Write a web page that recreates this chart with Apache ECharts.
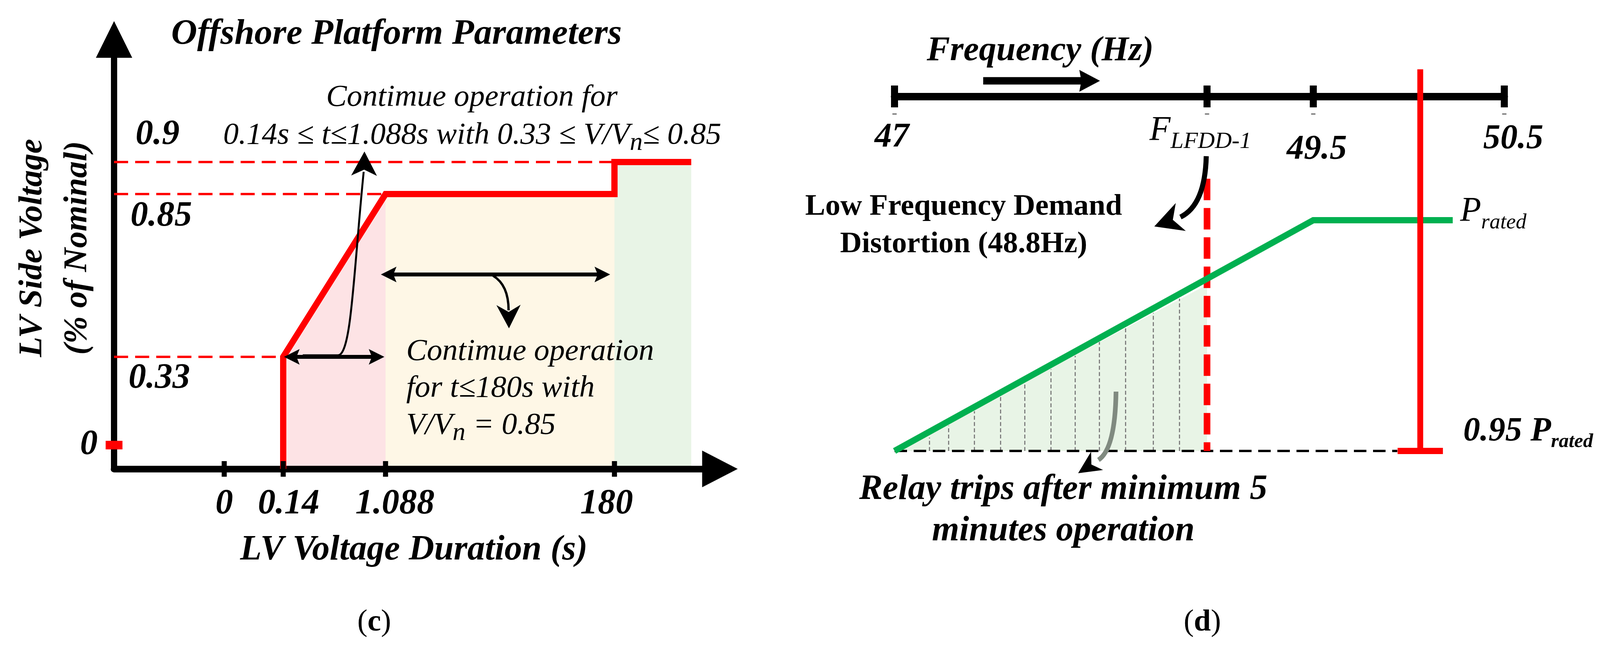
<!DOCTYPE html>
<html>
<head>
<meta charset="utf-8">
<script src="https://cdn.jsdelivr.net/npm/echarts@6/dist/echarts.min.js"></script>
<style>html,body{margin:0;padding:0;background:#fff}#c{width:4117px;height:1652px}</style>
</head>
<body>
<div id="c"></div>
<script>
// ================= DATA =================
// Panel (c): LV ride-through curve of the offshore platform
const cTimeTicks      = [0, 0.14, 1.088, 180];          // s
const cTimeTickLabels = ['0', '0.14', '1.088', '180'];
const cVoltLevels     = [0, 0.33, 0.85, 0.9];           // V/Vn
const cVoltLabels     = ['0', '0.33', '0.85', '0.9'];
const cCurveTime      = [0.14, 0.14, 1.088, 180, 180, 240];
const cCurveVolt      = [0, 0.33, 0.85, 0.85, 0.9, 0.9];
const cZoneTime       = [[0.14, 1.088], [1.088, 180], [180, 240]];
const cZoneVolt       = [[0.33, 0.85], [0.85, 0.85], [0.9, 0.9]];
const cGuideVolt      = [0.9, 0.85, 0.33];
const cGuideEndTime   = [180, 1.088, 0.14];

// Panel (d): low-frequency demand disconnection
const dFreqTicks      = [47, 48.8, 49.5, 50.5];         // Hz
const dFreqTickLabels = ['47', 'F_LFDD-1', '49.5', '50.5'];
const dPowerFreq      = [47, 49.5, 50.23];
const dPowerVal       = [0.95, 1.0, 1.0];               // P / Prated
const dLfddFreq       = [48.8, 48.8];
const dLfddVal        = [1.009, 0.95];
const dRelayFreq      = [50.06, 50.06];
const dRelayVal       = [0.95, 1.0327];
const dBaseFreq       = [47, 49.94];
const dBaseVal        = [0.95, 0.95];
const dTripFreq       = [47, 48.8];
const dTripVal        = [0.95, 0.986];
const dHatchFreq      = [47.2, 47.31, 47.46, 47.61, 47.75, 47.9, 48.04, 48.18, 48.33, 48.49, 48.64];
const dHatchTop       = [0.9529, 0.9555, 0.9586, 0.9617, 0.9647, 0.9677, 0.9706, 0.9736, 0.9767, 0.9799, 0.983];

// ================= SCHEMATIC SCALES (layout) =================
// piecewise-linear schematic axes, like the hand-drawn figure
const cTimeUnits = [1, 1.5355, 2.4645, 4.5426];
const cVoltUnits = [0, 2.87, 7.04, 7.86];
const dFreqUnits = [0, 8.0, 10.72, 15.61];
function pw(v, xs, us) {
  const n = xs.length; let i = 0;
  if (v <= xs[0]) i = 0; else if (v >= xs[n - 1]) i = n - 2; else { while (v > xs[i + 1]) i++; }
  return us[i] + (v - xs[i]) * (us[i + 1] - us[i]) / (xs[i + 1] - xs[i]);
}
const cx = t => pw(t, cTimeTicks, cTimeUnits);
const cy = v => pw(v, cVoltLevels, cVoltUnits);
const dx = f => pw(f, dFreqTicks, dFreqUnits);
const idxOf = (val, arr, fn) => arr.findIndex(a => Math.abs(fn(a) - val) < 1e-6);

const FONT = '"Liberation Serif", "Times New Roman", serif';
const RED = '#ff0000', GREEN = '#00b050', K = '#000';
const D_YMIN = 0.95, D_YMAX = 1.02682;
const BI = {fontFamily: FONT, fontStyle: 'italic', fontWeight: 'bold', color: K};

// ================= OPTION =================
const series = [];
const zoneColors = ['#fde3e5', '#fef7e6', '#e8f4e6'];
cZoneTime.forEach((tt, i) => series.push({
  type: 'line', xAxisIndex: 0, yAxisIndex: 0, silent: true, z: 1, symbol: 'none',
  data: tt.map((t, j) => [cx(t), cy(cZoneVolt[i][j])]),
  lineStyle: {width: 0}, areaStyle: {color: zoneColors[i], opacity: 1, origin: 'start'}
}));
cGuideVolt.forEach((v, i) => series.push({
  type: 'line', xAxisIndex: 0, yAxisIndex: 0, silent: true, z: 2, symbol: 'none',
  data: [[0, cy(v)], [cx(cGuideEndTime[i]), cy(v)]],
  lineStyle: {color: RED, width: 6, type: [36, 18]}
}));
series.push({
  type: 'line', xAxisIndex: 0, yAxisIndex: 0, silent: true, z: 3, symbol: 'none',
  data: cCurveTime.map((t, i) => [cx(t), cy(cCurveVolt[i])]),
  lineStyle: {color: RED, width: 16, join: 'miter', cap: 'butt'}
});
series.push({
  type: 'scatter', xAxisIndex: 0, yAxisIndex: 0, silent: true, z: 4, clip: false,
  symbol: 'rect', symbolSize: [13, 40], itemStyle: {color: K, opacity: 1},
  data: cTimeTicks.map(t => [cx(t), cy(0)])
});
series.push({
  type: 'scatter', xAxisIndex: 0, yAxisIndex: 0, silent: true, z: 4, clip: false,
  symbol: 'rect', symbolSize: [43, 22], symbolOffset: [0, -61], itemStyle: {color: RED, opacity: 1},
  data: [[0, cy(cVoltLevels[0])]]
});
const levelLabelPos = [[38, 57], [43, 59], [56, -68]];
series.push({
  type: 'scatter', xAxisIndex: 0, yAxisIndex: 0, silent: true, z: 5, clip: false,
  symbol: 'circle', symbolSize: 2, itemStyle: {color: 'rgba(0,0,0,0)', opacity: 1},
  data: cVoltLevels.slice(1).map((v, i) => ({
    value: [0, cy(v)],
    label: {show: true, position: levelLabelPos[i], formatter: cVoltLabels[i + 1],
            align: 'left', verticalAlign: 'middle', fontSize: 90, opacity: 1, ...BI}
  }))
});

// panel d
series.push({
  type: 'line', xAxisIndex: 1, yAxisIndex: 1, silent: true, z: 1, symbol: 'none',
  data: dTripFreq.map((f, i) => [dx(f), dTripVal[i]]),
  lineStyle: {width: 0}, areaStyle: {color: '#e8f4e6', opacity: 1, origin: 'start'},
  markLine: {
    silent: true, symbol: ['none', 'none'], label: {show: false}, z: 2,
    lineStyle: {color: '#7f7f7f', width: 3, type: [10, 6]},
    data: dHatchFreq.map((f, i) => [{coord: [dx(f), D_YMIN]}, {coord: [dx(f), dHatchTop[i]]}])
  }
});
series.push({
  type: 'line', xAxisIndex: 1, yAxisIndex: 1, silent: true, z: 2, symbol: 'none',
  data: dBaseFreq.map((f, i) => [dx(f), dBaseVal[i]]),
  lineStyle: {color: K, width: 6, type: [32, 17]}
});
series.push({
  type: 'line', xAxisIndex: 1, yAxisIndex: 1, silent: true, z: 3, symbol: 'none', clip: false,
  data: dLfddFreq.map((f, i) => [dx(f), dLfddVal[i]]),
  lineStyle: {color: RED, width: 17, type: [55, 20]}
});
series.push({
  type: 'line', xAxisIndex: 1, yAxisIndex: 1, silent: true, z: 4, symbol: 'none',
  data: dPowerFreq.map((f, i) => [dx(f), dPowerVal[i]]),
  lineStyle: {color: GREEN, width: 16, join: 'miter'}
});
series.push({
  type: 'line', xAxisIndex: 1, yAxisIndex: 1, silent: true, z: 5, symbol: 'none', clip: false,
  data: dRelayFreq.map((f, i) => [dx(f), dRelayVal[i]]),
  lineStyle: {color: RED, width: 15}
});
series.push({
  type: 'scatter', xAxisIndex: 1, yAxisIndex: 1, silent: true, z: 5, clip: false,
  symbol: 'rect', symbolSize: [116, 16], itemStyle: {color: RED, opacity: 1},
  data: [[dx(dRelayFreq[0]), dRelayVal[0]]]
});
series.push({
  type: 'scatter', xAxisIndex: 1, yAxisIndex: 1, silent: true, z: 3, clip: false,
  symbol: 'rect', symbolSize: [18, 56], itemStyle: {color: K, opacity: 1},
  data: dFreqTicks.map(f => [dx(f), D_YMAX])
});
series.push({
  type: 'scatter', xAxisIndex: 1, yAxisIndex: 1, silent: true, z: 3, clip: false,
  symbol: 'rect', symbolSize: [11, 3], symbolOffset: [0, 45], itemStyle: {color: '#666', opacity: 1},
  data: dFreqTicks.map(f => [dx(f), D_YMAX])
});

const cTickRich = {
  l0: {...BI, fontSize: 90},
  l1: {...BI, fontSize: 90, padding: [0, 0, 0, 28]},
  l2: {...BI, fontSize: 90, padding: [0, 0, 0, 48]},
  l3: {...BI, fontSize: 90, padding: [0, 40, 0, 0]}
};
const dTickRich = {
  t0: {...BI, fontSize: 88, padding: [0, 14, 0, 0]},
  f:  {...BI, fontSize: 88, fontWeight: 'normal', padding: [0, 0, 34, 0]},
  s:  {...BI, fontSize: 60, fontWeight: 'normal', padding: [22, 34, 0, 0]},
  t2: {...BI, fontSize: 88, padding: [62, 0, 0, 18]},
  t3: {...BI, fontSize: 88, padding: [8, 0, 0, 46]}
};

const option = {
  animation: false,
  backgroundColor: '#fff',
  textStyle: {fontFamily: FONT},
  grid: [
    {left: 292, top: 101, width: 1551, height: 1100, containLabel: false, outerBoundsMode: 'none'},
    {left: 2290, top: 247, width: 1561, height: 908, containLabel: false, outerBoundsMode: 'none'}
  ],
  xAxis: [
    {
      type: 'value', gridIndex: 0, min: 0, max: 5.5, z: 2,
      axisLine: {show: true, onZero: false, lineStyle: {color: K, width: 17},
                 symbol: ['none', 'triangle'], symbolSize: [94, 91]},
      axisTick: {show: false}, splitLine: {show: false},
      axisLabel: {
        show: true, customValues: cTimeTicks.map(cx), margin: 91, verticalAlign: 'middle',
        formatter: v => { const i = idxOf(v, cTimeTicks, cx); return i < 0 ? '' : '{l' + i + '|' + cTimeTickLabels[i] + '}'; },
        rich: cTickRich, fontSize: 90, ...BI
      },
      name: 'LV Voltage Duration (s)', nameLocation: 'middle', nameGap: 209,
      nameTextStyle: {...BI, fontSize: 90, verticalAlign: 'middle', padding: [0, 16, 0, 0]}
    },
    {
      type: 'value', gridIndex: 1, position: 'top', min: 0, max: 15.61,
      axisLine: {show: true, onZero: false, lineStyle: {color: K, width: 19}},
      axisTick: {show: false}, splitLine: {show: false},
      axisLabel: {
        show: true, inside: true, customValues: dFreqTicks.map(dx), margin: 105, verticalAlign: 'middle',
        formatter: v => {
          const i = idxOf(v, dFreqTicks, dx);
          if (i === 1) { const p = dFreqTickLabels[1].split('_'); return '{f|' + p[0] + '}{s|' + p[1] + '}'; }
          return i < 0 ? '' : '{t' + i + '|' + dFreqTickLabels[i] + '}';
        },
        rich: dTickRich, fontSize: 88, ...BI
      }
    }
  ],
  yAxis: [
    {
      type: 'value', gridIndex: 0, min: 0, max: 11, z: 2,
      axisLine: {show: true, onZero: false, lineStyle: {color: K, width: 16},
                 symbol: ['none', 'triangle'], symbolSize: [93, 94]},
      axisTick: {show: false}, splitLine: {show: false},
      axisLabel: {
        show: true, customValues: [cy(cVoltLevels[0])], margin: 42,
        formatter: () => '{z|' + cVoltLabels[0] + '}',
        rich: {z: {...BI, fontSize: 90, padding: [0, 0, 122, 0]}}
      }
    },
    {type: 'value', gridIndex: 1, min: D_YMIN, max: D_YMAX, show: false}
  ],
  series: series
};

const chart = echarts.init(document.getElementById('c'), null, {renderer: 'canvas', width: 4117, height: 1652});
chart.setOption(option);

// ================= ANNOTATIONS (arrows & free text) =================
function txt(x, y, text, st) {
  return {type: 'text', x: x, y: y, z: 30, silent: true,
    style: Object.assign({text: text, fill: K, fontFamily: FONT, fontSize: 90, fontStyle: 'italic',
      fontWeight: 'bold', align: 'center', verticalAlign: 'middle'}, st || {})};
}
function seg(x1, y1, x2, y2, w, color) {
  return {type: 'line', z: 25, silent: true, shape: {x1, y1, x2, y2}, style: {stroke: color || K, lineWidth: w, lineCap: 'butt'}};
}
function curve(p0, c1, p1, w, color, c2) {
  const shape = {x1: p0[0], y1: p0[1], x2: p1[0], y2: p1[1], cpx1: c1[0], cpy1: c1[1]};
  if (c2) { shape.cpx2 = c2[0]; shape.cpy2 = c2[1]; }
  return {type: 'bezierCurve', z: 25, silent: true, shape, style: {stroke: color || K, lineWidth: w, fill: null}};
}
function head(tip, from, len, hw, notch, color) {
  const ddx = tip[0] - from[0], ddy = tip[1] - from[1], d = Math.hypot(ddx, ddy);
  const ux = ddx / d, uy = ddy / d, px = -uy, py = ux;
  const bx = tip[0] - ux * len, by = tip[1] - uy * len;
  const nx = tip[0] - ux * len * notch, ny = tip[1] - uy * len * notch;
  return {type: 'polygon', z: 26, silent: true,
    shape: {points: [tip, [bx + px * hw, by + py * hw], [nx, ny], [bx - px * hw, by - py * hw]]},
    style: {fill: color || K}};
}
function dbl(xa, xb, y, w) {
  return [seg(xa + 25, y, xb - 25, y, w), head([xa, y], [xb, y], 40, 20, 0.8), head([xb, y], [xa, y], 40, 20, 0.8)];
}
const it = {fontSize: 79, fontWeight: 'normal'};
const subN = {n: {fontFamily: FONT, fontStyle: 'italic', fontWeight: 'normal', fontSize: 66, padding: [40, 0, 0, 0], fill: K}};

const g = [];
// panel c texts
g.push(txt(1015, 88, 'Offshore Platform Parameters', {fontSize: 92}));
g.push(txt(142, 635, 'LV Side Voltage\n(% of Nominal)', {fontSize: 85, lineHeight: 115}));
g[g.length - 1].rotation = Math.PI / 2;
g.push(txt(1208, 250, 'Contimue operation for', it));
g.push(txt(1209, 347, '0.14s ≤ t≤1.088s with 0.33 ≤ V/V{n|n}≤ 0.85', Object.assign({rich: subN}, it)));
g.push(txt(1040, 901, 'Contimue operation', Object.assign({align: 'left'}, it)));
g.push(txt(1040, 995, 'for t≤180s with', Object.assign({align: 'left'}, it)));
g.push(txt(1040, 1090, 'V/V{n|n} = 0.85', Object.assign({align: 'left', rich: subN}, it)));
g.push(txt(958, 1595, '({b|c})', {fontSize: 78, fontStyle: 'normal', fontWeight: 'normal',
  rich: {b: {fontFamily: FONT, fontSize: 78, fontWeight: 'bold', fill: K}}}));
// panel c arrows
g.push(...dbl(975, 1562, 703, 10));
g.push(curve([1262, 706], [1302, 730], [1302, 795], 6));
g.push(head([1303, 841], [1302, 790], 60, 31, 0.7));
g.push(...dbl(727, 984, 914, 10));
g.push(seg(775, 910, 868, 910, 5));
g.push(curve([866, 910], [900, 905], [931, 440], 5, K, [905, 700]));
g.push(head([933, 388], [932, 450], 62, 33, 0.75));

// panel d texts
g.push(txt(2663, 131, 'Frequency (Hz)', {fontSize: 89}));
g.push(seg(2517, 207, 2775, 207, 19));
g.push(head([2816, 207], [2700, 207], 53, 28, 0.9));
g.push(txt(2467, 530, 'Low Frequency Demand', {fontSize: 77, fontStyle: 'normal'}));
g.push(txt(2467, 626, 'Distortion (48.8Hz)', {fontSize: 77, fontStyle: 'normal'}));
g.push(curve([3088, 400], [3085, 525], [3022, 556], 13));
g.push(head([2955, 580], [3022, 556], 72, 38, 0.7));
g.push(txt(3738, 542, '{p|P}{s|rated}', {align: 'left', fontWeight: 'normal', fontSize: 88,
  rich: {p: {fontFamily: FONT, fontStyle: 'italic', fontSize: 88, fill: K},
         s: {fontFamily: FONT, fontStyle: 'italic', fontSize: 55, padding: [57, 0, 0, 0], fill: K}}}));
g.push(txt(3746, 1106, '{p|0.95 P}{s|rated}', {align: 'left', fontSize: 86,
  rich: {p: {fontFamily: FONT, fontStyle: 'italic', fontWeight: 'bold', fontSize: 86, fill: K},
         s: {fontFamily: FONT, fontStyle: 'italic', fontWeight: 'bold', fontSize: 51, padding: [52, 0, 0, 0], fill: K}}}));
g.push(txt(2722, 1255, 'Relay trips after minimum 5'));
g.push(txt(2722, 1361, 'minutes operation'));
g.push(curve([2857, 1003], [2855, 1150], [2812, 1178], 12, '#808a80'));
g.push(head([2760, 1212], [2812, 1178], 58, 28, 0.7));
g.push(txt(3078, 1595, '({b|d})', {fontSize: 78, fontStyle: 'normal', fontWeight: 'normal',
  rich: {b: {fontFamily: FONT, fontSize: 78, fontWeight: 'bold', fill: K}}}));

chart.setOption({graphic: {elements: g}});
</script>
</body>
</html>
